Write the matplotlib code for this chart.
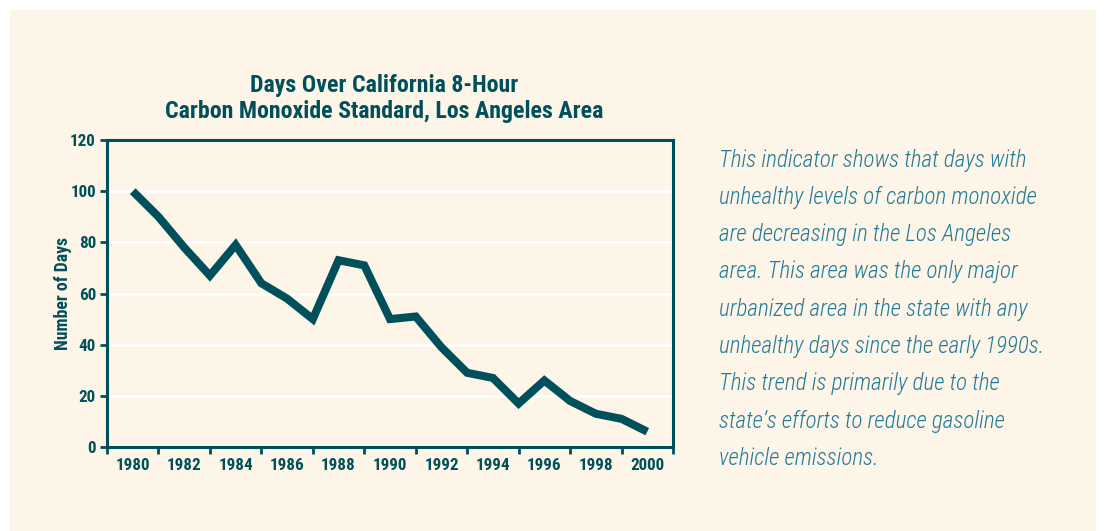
import matplotlib
matplotlib.use("Agg")
import matplotlib.pyplot as plt
from matplotlib.patches import Rectangle
from matplotlib.ticker import FixedLocator, NullFormatter, FixedFormatter

years = list(range(1980, 2001))
days = [100, 90, 78, 67, 79, 64, 58, 50, 73, 71, 50, 51, 39, 29, 27, 17, 26, 18, 13, 11, 6]
year_labels = [str(y) for y in range(1980, 2001, 2)]
y_ticks = [0, 20, 40, 60, 80, 100, 120]

title = "Days Over California 8-Hour\nCarbon Monoxide Standard, Los Angeles Area"
ylabel = "Number of Days"
note_lines = [
    "This indicator shows that days with",
    "unhealthy levels of carbon monoxide",
    "are decreasing in the Los Angeles",
    "area. This area was the only major",
    "urbanized area in the state with any",
    "unhealthy days since the early 1990s.",
    "This trend is primarily due to the",
    "state\u2019s efforts to reduce gasoline",
    "vehicle emissions.",
]

DARK = "#00505B"
TEXT = "#217A97"
CREAM = "#FDF5E8"
FONT = ["Roboto Condensed", "DejaVu Sans"]

W, H = 1109, 531
fig = plt.figure(figsize=(W / 100, H / 100), dpi=100)
fig.patch.set_facecolor("white")
bg = Rectangle((10 / W, 0), (1096 - 10) / W, 1 - 10 / H,
               transform=fig.transFigure, facecolor=CREAM,
               edgecolor="none", zorder=-10)
fig.add_artist(bg)

ax = fig.add_axes([107 / W, 1 - 447 / H, (673 - 107) / W, (447 - 140) / H])
ax.set_zorder(1)
ax.set_facecolor(CREAM)
ax.plot(years, days, color=DARK, lw=5.8, solid_joinstyle="miter", solid_capstyle="butt", zorder=3)

ax.set_xlim(1979, 2001)
ax.set_ylim(0, 120)
ax.xaxis.set_major_locator(FixedLocator(list(range(1979, 2002, 2))))
ax.xaxis.set_major_formatter(NullFormatter())
ax.xaxis.set_minor_locator(FixedLocator(list(range(1980, 2001, 2))))
ax.xaxis.set_minor_formatter(FixedFormatter(year_labels))
ax.tick_params(axis="x", which="major", length=5, width=2, color=DARK, direction="out")
ax.tick_params(axis="x", which="minor", length=0, pad=8, labelsize=12.3, labelcolor=DARK)
ax.set_yticks(y_ticks)
ax.tick_params(axis="y", length=5, width=2, color=DARK, pad=3, labelsize=12.3, labelcolor=DARK)
for lab in ax.get_xticklabels(minor=True) + ax.get_yticklabels():
    lab.set_fontfamily(FONT)
    lab.set_fontweight("bold")

ax.grid(axis="y", color="white", lw=2)
ax.set_axisbelow(True)
for s in ax.spines.values():
    s.set_color(DARK)
    s.set_linewidth(2.2)

ax.set_ylabel(ylabel, family=FONT, fontweight="bold", fontsize=12.8, color=DARK, labelpad=-1)
ax.set_title(title, family=FONT, fontweight="bold", fontsize=17.2, color=DARK, pad=15.5,
             linespacing=1.22, x=0.49)

y0 = 160
for i, line in enumerate(note_lines):
    fig.text(719 / W, 1 - (y0 + i * 37.3) / H, line, family=FONT, style="italic",
             fontweight=300, fontsize=16.7, color=TEXT, va="center", ha="left")

fig.savefig("out.png", dpi=100, facecolor=fig.get_facecolor())
